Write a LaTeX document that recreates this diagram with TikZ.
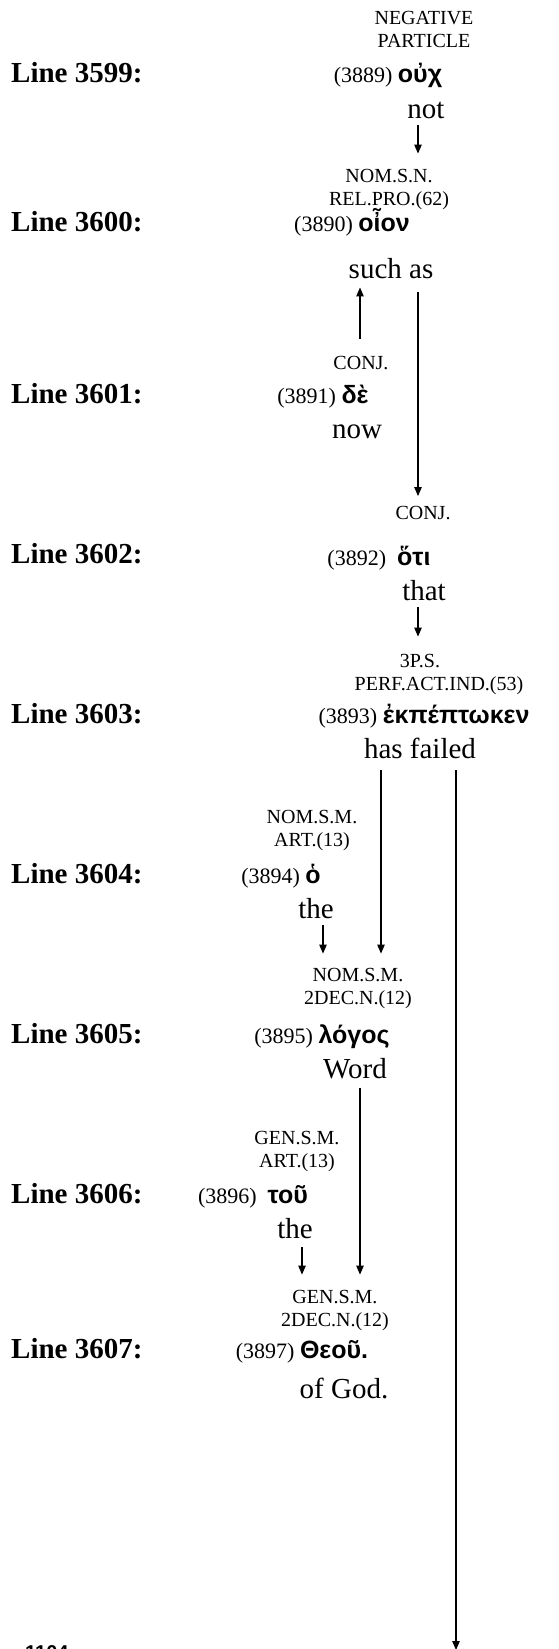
\documentclass[tikz,border=0pt]{standalone}
\usepackage{fontspec}
\setmainfont{Liberation Serif}
\newfontfamily\grk{Liberation Sans}
\newfontfamily\pgnum{Liberation Sans}
\usetikzlibrary{arrows.meta}

\newcommand{\gk}[1]{{\grk\bfseries\fontsize{25}{28}\selectfont #1}}

\tikzset{
    linelab/.style={anchor=base west, inner sep=0pt, font=\fontsize{29}{33}\selectfont\bfseries},
    tag/.style={align=center, inner sep=1pt, font=\fontsize{20}{23}\selectfont},
    word/.style={anchor=base, inner sep=1pt, font=\fontsize{22}{26}\selectfont},
    gloss/.style={anchor=base, inner sep=1pt, font=\fontsize{29}{33}\selectfont},
    conn/.style={-{Triangle[length=9pt,width=7.5pt]}, line width=1.1pt},
}

\begin{document}
\begin{tikzpicture}[x=1pt,y=-1pt]

    \useasboundingbox (0,0) rectangle (558,1649);

    %line numbers down the left side
    \node[linelab] (l3599) at (11,82) {Line 3599:};
    \node[linelab] (l3600) at (11,231) {Line 3600:};
    \node[linelab] (l3601) at (11,403) {Line 3601:};
    \node[linelab] (l3602) at (11,563) {Line 3602:};
    \node[linelab] (l3603) at (11,723) {Line 3603:};
    \node[linelab] (l3604) at (11,883) {Line 3604:};
    \node[linelab] (l3605) at (11,1043) {Line 3605:};
    \node[linelab] (l3606) at (11,1203) {Line 3606:};
    \node[linelab] (l3607) at (11,1358) {Line 3607:};

    %ouch - not
    \node[tag] (tagouch) at (424,29) {NEGATIVE\\PARTICLE};
    \node[word] (ouch) at (388,82) {(3889) \gk{οὐχ}};
    \node[gloss] (not) at (426,118) {not};

    %hoion - such as
    \node[tag] (taghoion) at (389,190) {NOM.S.N.\\REL.PRO.(62)};
    \node[word] (hoion) at (352,231) {(3890) \gk{οἶον}};
    \node[gloss] (suchas) at (391,278) {such as};

    %de - now
    \node[tag] (tagde) at (361,363) {CONJ.};
    \node[word] (de) at (323,403) {(3891) \gk{δὲ}};
    \node[gloss] (now) at (357,438) {now};

    %hoti - that
    \node[tag] (taghoti) at (423,513) {CONJ.};
    \node[word] (hoti) at (379,565) {(3892)\ \ \gk{ὅτι}};
    \node[gloss] (that) at (424,600) {that};

    %ekpeptoken - has failed
    \node[tag] (tagekp) at (439,674) {3P.S.\hspace*{38pt}\\PERF.ACT.IND.(53)};
    \node[word] (ekp) at (424,723) {(3893) \gk{ἐκπέπτωκεν}};
    \node[gloss] (hasfailed) at (420,758) {has failed};

    %ho - the
    \node[tag] (tagho) at (312,830) {NOM.S.M.\\ART.(13)};
    \node[word] (ho) at (281,883) {(3894) \gk{ὁ}};
    \node[gloss] (theA) at (316,918) {the};

    %logos - Word
    \node[tag] (taglogos) at (358,988) {NOM.S.M.\\2DEC.N.(12)};
    \node[word] (logos) at (322,1043) {(3895) \gk{λόγος}};
    \node[gloss] (wordgl) at (355,1078) {Word};

    %tou - the
    \node[tag] (tagtou) at (297,1151) {GEN.S.M.\\ART.(13)};
    \node[word] (tou) at (253,1203) {(3896)\ \ \gk{τοῦ}};
    \node[gloss] (theB) at (295,1238) {the};

    %theou - of God
    \node[tag] (tagtheou) at (335,1310) {GEN.S.M.\\2DEC.N.(12)};
    \node[word] (theou) at (302,1358) {(3897) \gk{Θεοῦ.}};
    \node[gloss] (ofgod) at (344,1398) {of God.};

    %page number, cut off at the bottom
    \node[anchor=north west, inner sep=0pt, font=\pgnum\bfseries\fontsize{20}{24}\selectfont] (pagenum) at (25,1645) {1104};

    %arrows between the words
    \coordinate (bottomend) at (456,1650);
    \draw[conn, shorten <=6pt, shorten >=15pt] (418,0 |- not.south) -- (418,0 |- taghoion.north);
    \draw[conn, shorten <=16pt, shorten >=8pt] (360,0 |- tagde.north) -- (360,0 |- suchas.south);
    \draw[conn, shorten <=13pt, shorten >=9pt] (418,0 |- suchas.south) -- (418,0 |- taghoti.north);
    \draw[conn, shorten <=6pt, shorten >=16pt] (418,0 |- that.south) -- (418,0 |- tagekp.north);
    \draw[conn, shorten <=11pt, shorten >=13pt] (381,0 |- hasfailed.south) -- (381,0 |- taglogos.north);
    \draw[conn, shorten <=11pt] (456,0 |- hasfailed.south) -- (bottomend);
    \draw[conn, shorten <=6pt, shorten >=13pt] (323,0 |- theA.south) -- (323,0 |- taglogos.north);
    \draw[conn, shorten <=8pt, shorten >=14pt] (360,0 |- wordgl.south) -- (360,0 |- tagtheou.north);
    \draw[conn, shorten <=8pt, shorten >=14pt] (302,0 |- theB.south) -- (302,0 |- tagtheou.north);

\end{tikzpicture}
\end{document}
